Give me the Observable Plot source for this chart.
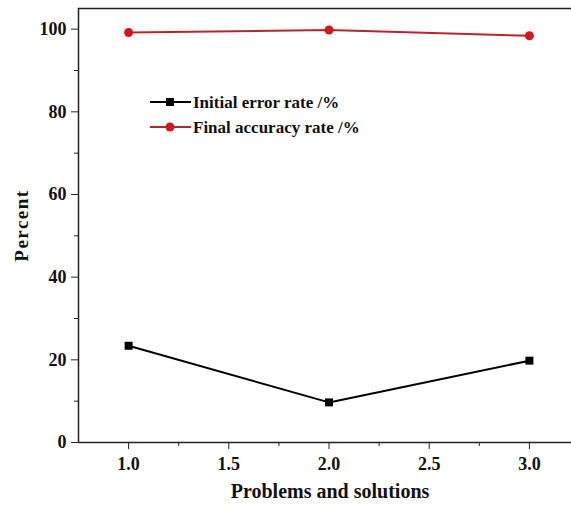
<!DOCTYPE html>
<html><head><meta charset="utf-8">
<script src="https://cdn.jsdelivr.net/npm/d3@7"></script>
<script src="https://cdn.jsdelivr.net/npm/@observablehq/plot@0.6"></script>
<style>
body{margin:0;background:#fff;overflow:hidden}
#chart{position:relative;width:571px;height:508px}
</style>
</head><body><div id="chart"></div>
<script>
const problems = [1.0, 2.0, 3.0];
const initialError = [23.4, 9.7, 19.8];
const finalAccuracy = [99.2, 99.8, 98.4];
const seriesNames = ["Initial error rate /%", "Final accuracy rate /%"];
const seriesColors = ["#000000", "#cc1a1f"];
const xTicks = [1.0, 1.5, 2.0, 2.5, 3.0];
const xMinor = [1.25, 1.75, 2.25, 2.75];
const yTicks = [0, 20, 40, 60, 80, 100];
const yMinor = [10, 30, 50, 70, 90];
const xTitle = "Problems and solutions";
const yTitle = "Percent";

const errRows = problems.map((x, i) => ({x, y: initialError[i]}));
const accRows = problems.map((x, i) => ({x, y: finalAccuracy[i]}));
const font = "'Liberation Serif','Times New Roman',serif";

const plot = Plot.plot({
  width: 571, height: 508,
  marginLeft: 78, marginTop: 8, marginRight: 0, marginBottom: 66,
  x: {domain: [0.75, 3.21]},
  y: {domain: [0, 105]},
  style: {fontFamily: font, fontWeight: "bold", fontSize: "18px", color: "#111", background: "#fff"},
  marks: [
    Plot.ruleY([105], {stroke: "#222", strokeWidth: 1.5}),
    Plot.ruleX([0.75], {stroke: "#222", strokeWidth: 1.5}),
    Plot.ruleY([0], {stroke: "#222", strokeWidth: 1.5}),
    Plot.axisY(yTicks, {tickSize: 7, tickPadding: 5, tickFormat: d => String(d), label: null, fontSize: 18, stroke: "#222"}),
    Plot.axisY(yMinor, {tickSize: 4, tickFormat: () => "", label: null, stroke: "#222"}),
    Plot.axisX(xTicks, {tickSize: 7, tickPadding: 8, tickFormat: d => d.toFixed(1), label: null, fontSize: 18, stroke: "#222"}),
    Plot.axisX(xMinor, {tickSize: 4, tickFormat: () => "", label: null, stroke: "#222"}),
    Plot.text([yTitle], {frameAnchor: "left", dx: -57, rotate: -90, textAnchor: "middle", fontSize: 19, fill: "#111"}),
    Plot.text([xTitle], {frameAnchor: "bottom", dy: 55, dx: 5, fontSize: 20, fill: "#111"}),
    Plot.line(errRows, {x: "x", y: "y", stroke: seriesColors[0], strokeWidth: 2}),
    Plot.dot(errRows, {x: "x", y: "y", symbol: "square", r: 4.5, fill: seriesColors[0], stroke: null}),
    Plot.line(accRows, {x: "x", y: "y", stroke: "#b8262b", strokeWidth: 2}),
    Plot.dot(accRows, {x: "x", y: "y", symbol: "circle", r: 4.5, fill: seriesColors[1], stroke: null})
  ]
});
document.getElementById("chart").appendChild(plot);

// legend
const svg = d3.select(plot);
const lg = svg.append("g").attr("font-family", font).attr("font-weight", "bold").attr("font-size", 17).attr("text-anchor", "start");
seriesNames.forEach((name, i) => {
  const y = 102 + i * 25;
  lg.append("line").attr("x1", 150).attr("x2", 191).attr("y1", y).attr("y2", y)
    .attr("stroke", i ? "#b8262b" : "#000").attr("stroke-width", 2);
  if (i === 0) lg.append("rect").attr("x", 166).attr("y", y - 4).attr("width", 8).attr("height", 8).attr("fill", seriesColors[0]);
  else lg.append("circle").attr("cx", 170).attr("cy", y).attr("r", 4.5).attr("fill", seriesColors[1]);
  lg.append("text").attr("x", 193).attr("y", y).attr("dy", "0.35em").attr("fill", "#111").text(name);
});
svg.selectAll("text").filter(function(){ return d3.select(this).text() === yTitle; }).attr("letter-spacing", "1.5px");
</script>
</body></html>
